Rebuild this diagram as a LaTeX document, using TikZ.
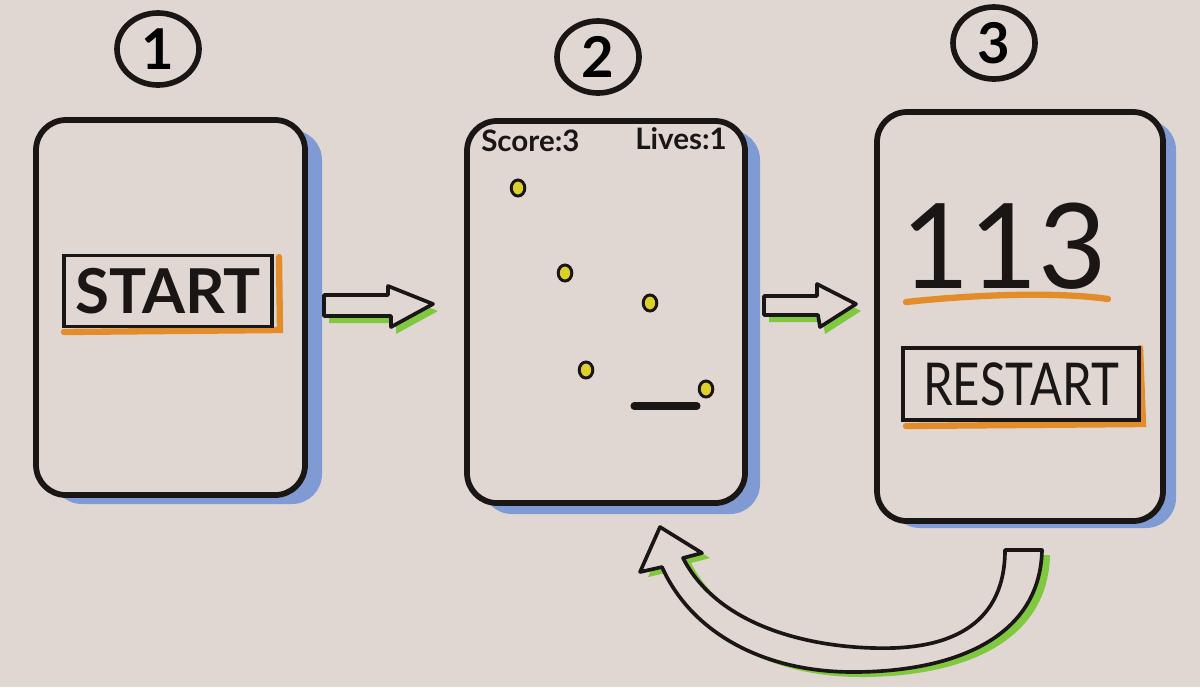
\documentclass[tikz,border=0pt]{standalone}
\usepackage{fontspec}
\setmainfont{Lato}
\usetikzlibrary{shapes.geometric}
\definecolor{paper}{RGB}{224,215,211}
\definecolor{shadowblue}{RGB}{128,154,212}
\definecolor{markgreen}{RGB}{128,200,62}
\definecolor{markorange}{RGB}{226,140,42}
\definecolor{dotyellow}{RGB}{222,208,44}
\definecolor{ink}{RGB}{26,22,22}
\tikzset{
  inkline/.style={draw=ink, line width=4.1pt, line join=round, line cap=round},
  thinink/.style={draw=ink, line width=2.6pt, line join=round, line cap=round},
  screenbox/.style={inkline, fill=paper, rounded corners=0.75cm},
  blueshade/.style={fill=shadowblue, rounded corners=0.75cm},
  greenshade/.style={fill=markgreen},
  blockarrow/.style={thinink, fill=paper},
  orangemark/.style={draw=markorange, line width=4.5pt, line cap=round},
  circnum/.style={ellipse, draw=ink, line width=4pt, minimum width=2.05cm, minimum height=1.8cm, inner sep=0pt, font=\fontsize{40}{40}\selectfont\bfseries},
  btnbox/.style={draw=ink, line width=2.6pt, inner sep=0pt},
  ball/.style={ellipse, draw=ink, line width=2.1pt, fill=dotyellow, minimum width=0.34cm, minimum height=0.4cm, inner sep=0pt},
  hud/.style={font=\fontsize{21}{21}\selectfont\bfseries, text=ink, inner sep=0pt}
}
\begin{document}
\begin{tikzpicture}[x=0.025cm,y=-0.025cm]
\fill[paper] (0,0) rectangle (1200,687);
\useasboundingbox (0,0) rectangle (1200,687);

% circled step numbers
\node[circnum] (n1) at (158,49) {1};
\node[circnum] (n2) at (598,57) {2};
\node[circnum] (n3) at (994,43) {3};

% screen 1
\fill[blueshade] (52,130) rectangle (322,504);
\draw[screenbox] (36,120) rectangle (305,495);
\node[draw=none, minimum width=6.7cm, minimum height=9.35cm] (s1) at (170,307) {};
\draw[orangemark] (64,332) -- (280,330) -- (279,257);
\node[btnbox, minimum width=5.2cm, minimum height=1.78cm, font=\fontsize{44}{44}\selectfont\bfseries, text=ink] (startbtn) at (168,291) {START};

% screen 2
\fill[blueshade] (482,130) rectangle (760,514);
\draw[screenbox] (467,121) rectangle (745,503);
\node[draw=none, minimum width=6.95cm, minimum height=9.55cm] (s2) at (606,312) {};
\node[hud, anchor=west] (score) at (481,141) {Score:3};
\node[hud, anchor=east] (lives) at (727,139) {Lives:1};
\node[ball] (b1) at (518,188) {};
\node[ball] (b2) at (565,273) {};
\node[ball] (b3) at (650,303) {};
\node[ball] (b4) at (586,370) {};
\node[ball] (b5) at (706,389) {};
\coordinate (padl) at (634,406);
\coordinate (padr) at (697,406);
\draw[draw=ink, line width=5pt, line cap=round] (padl) -- (padr);

% screen 3
\fill[blueshade] (890,120) rectangle (1176,528);
\draw[screenbox] (877,112) rectangle (1163,521);
\node[draw=none, minimum width=7.15cm, minimum height=10.2cm] (s3) at (1020,316) {};
\node[font=\fontsize{84}{84}\selectfont, text=ink, inner sep=0pt] (result) at (1004,246) {113};
\draw[orangemark] (906,302) .. controls (980,294) and (1060,292) .. (1108,299);
\draw[orangemark] (906,426) -- (1143,424) -- (1140,348);
\node[btnbox, minimum width=5.9cm, minimum height=1.8cm, font=\fontsize{42}{42}\selectfont, text=ink] (restartbtn) at (1021,384) {\scalebox{0.8}[1]{RESTART}};

% arrow 1 -> 2
\begin{scope}[shift={(5,7)}]
\fill[greenshade] (324,295) -- (388,295) -- (388,286) -- (433,304) -- (391,327) -- (391,316) -- (324,316) -- cycle;
\end{scope}
\draw[blockarrow] (324,295) -- (388,295) -- (388,286) -- (433,304) -- (391,327) -- (391,316) -- (324,316) -- cycle;

% arrow 2 -> 3
\begin{scope}[shift={(5,7)}]
\fill[greenshade] (764,296) -- (817,296) -- (817,284) -- (856,304) -- (820,327) -- (818,315) -- (764,315) -- cycle;
\end{scope}
\draw[blockarrow] (764,296) -- (817,296) -- (817,284) -- (856,304) -- (820,327) -- (818,315) -- (764,315) -- cycle;

% return arrow 3 -> 2
\begin{scope}[shift={(8,5)}]
\fill[greenshade] (1042,550) .. controls (1040,640) and (950,672) .. (853,672) .. controls (760,672) and (690,630) .. (662,567) -- (640,572) -- (660,527) -- (702,553) -- (683,558) .. controls (720,630) and (820,650) .. (893,648) .. controls (980,645) and (1005,600) .. (1005,550) -- cycle;
\end{scope}
\draw[blockarrow] (1042,550) .. controls (1040,640) and (950,672) .. (853,672) .. controls (760,672) and (690,630) .. (662,567) -- (640,572) -- (660,527) -- (702,553) -- (683,558) .. controls (720,630) and (820,650) .. (893,648) .. controls (980,645) and (1005,600) .. (1005,550) -- cycle;
\end{tikzpicture}
\end{document}
